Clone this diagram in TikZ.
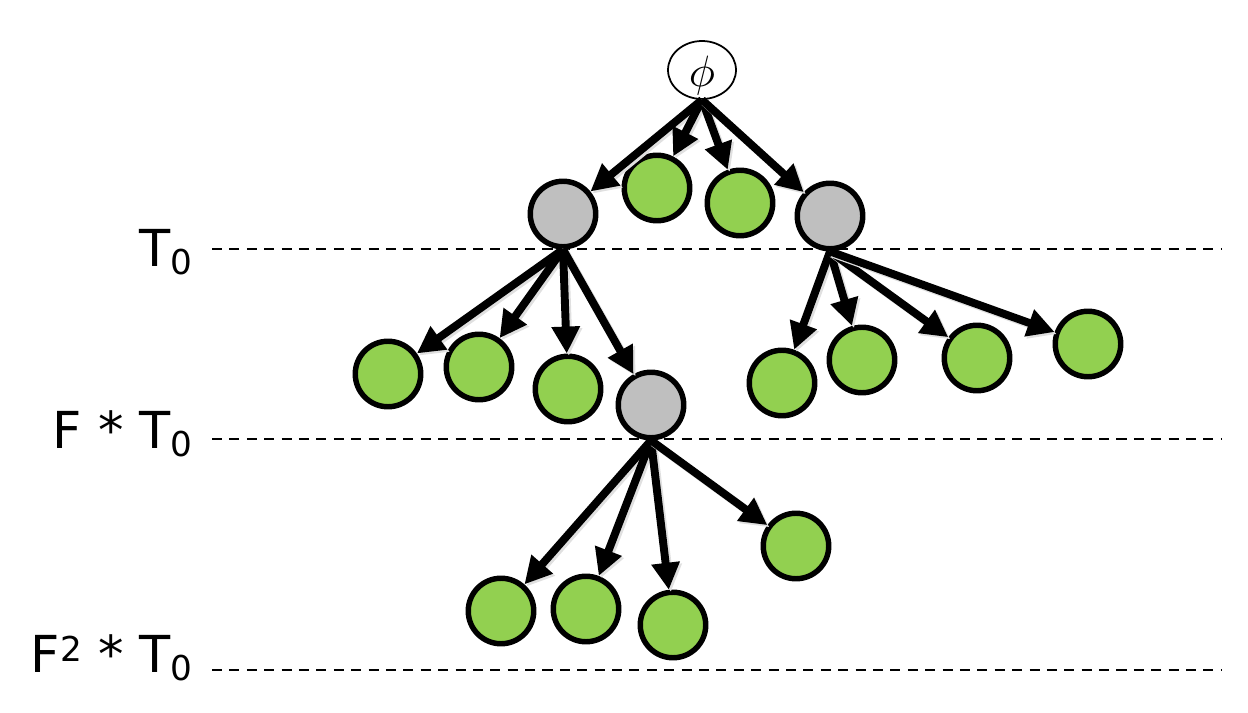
\documentclass[tikz,border=0pt]{standalone}
\usepackage{fontspec}
\usepackage{graphicx}
\setsansfont{DejaVu Sans}
\usetikzlibrary{arrows.meta,shapes.geometric}
\definecolor{leafgreen}{HTML}{92D050}
\definecolor{innergray}{HTML}{BFBFBF}
\tikzset{
  tnode/.style={circle, draw=black, line width=3.1pt, minimum size=1.31cm, inner sep=0pt},
  leafnode/.style={tnode, fill=leafgreen},
  innode/.style={tnode, fill=innergray},
  rootnode/.style={ellipse, draw=black, line width=1pt, minimum width=1.36cm, minimum height=1.16cm, inner sep=0pt, fill=white},
  arr/.style={line width=4.5pt, -{Triangle[length=0.54cm,width=0.54cm]},
    preaction={draw=black!12, line width=4.5pt, transform canvas={shift={(1.2pt,-1.2pt)}}}},
  levelline/.style={line width=1.1pt, dash pattern=on 5.7pt off 4.2pt},
  lbl/.style={font=\sffamily\fontsize{29}{34}\selectfont, inner sep=0pt, anchor=base east},
}
\newcommand\lowsub[1]{\raisebox{-5pt}{\fontsize{19.5}{20}\selectfont #1}}
\newcommand\highsup[1]{\raisebox{5.7pt}{\fontsize{19.5}{20}\selectfont #1}}
\begin{document}
\begin{tikzpicture}[x=0.02cm, y=-0.02cm]
\useasboundingbox (0,0) rectangle (1248,713);
% level lines
\coordinate (d0s) at (212,249); \coordinate (d0e) at (1222,249);
\coordinate (d1s) at (212,439); \coordinate (d1e) at (1222,439);
\coordinate (d2s) at (212,670); \coordinate (d2e) at (1222,670);
\draw[levelline] (d0s) -- (d0e);
\draw[levelline] (d1s) -- (d1e);
\draw[levelline] (d2s) -- (d2e);
% labels
\node[lbl] (l0) at (193,266) {T\lowsub{0}};
\node[lbl] (l1) at (193,448) {F * T\lowsub{0}};
\node[lbl] (l2) at (193,672) {F\highsup{2} * T\lowsub{0}};
% nodes
\node[rootnode, label={[yshift=-0.12cm, inner sep=0pt]center:\scalebox{2.5}{$\phi$}}] (root) at (702,70) {};
\node[innode] (a) at (563,214) {};
\node[leafnode] (g1) at (657,188) {};
\node[leafnode] (g2) at (740,203) {};
\node[innode] (b) at (830,216) {};
\node[leafnode] (a1) at (388,374) {};
\node[leafnode] (a2) at (479,367) {};
\node[leafnode] (a3) at (568,389) {};
\node[innode] (c) at (651,405) {};
\node[leafnode] (b1) at (782,383) {};
\node[leafnode] (b2) at (862,360) {};
\node[leafnode] (b3) at (977,358) {};
\node[leafnode] (b4) at (1088,344) {};
\node[leafnode] (c1) at (501,611) {};
\node[leafnode] (c2) at (586,609) {};
\node[leafnode] (c3) at (673,625) {};
\node[leafnode] (c4) at (796,546) {};
% edges
\foreach \t in {a,g1,g2,b} \draw[arr] (root.south) -- (\t);
\foreach \t in {a1,a2,a3,c} \draw[arr] (a.south) -- (\t);
\foreach \t in {b1,b2,b3,b4} \draw[arr] (b.south) -- (\t);
\foreach \t in {c1,c2,c3,c4} \draw[arr] (c.south) -- (\t);
\end{tikzpicture}
\end{document}
